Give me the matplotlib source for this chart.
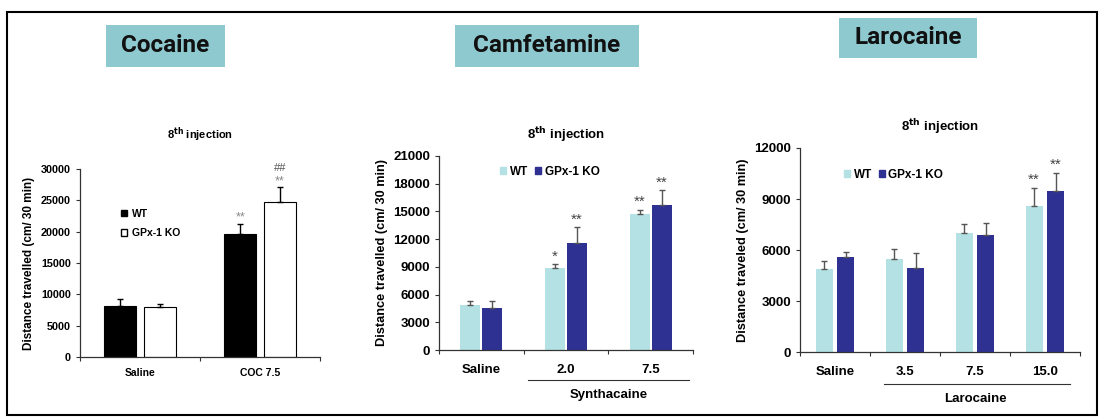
import matplotlib.pyplot as plt
import matplotlib.patches as mpatches
import numpy as np

# ---- data ----
coc_groups = ["Saline", "COC 7.5"]
coc_wt = [8200, 19700]
coc_wt_err = [1000, 1600]
coc_ko = [7900, 24700]
coc_ko_err = [500, 2400]

camf_groups = ["Saline", "2.0", "7.5"]
camf_wt = [4900, 8900, 14700]
camf_wt_err = [400, 400, 500]
camf_ko = [4600, 11600, 15700]
camf_ko_err = [700, 1700, 1600]

laro_groups = ["Saline", "3.5", "7.5", "15.0"]
laro_wt = [4900, 5500, 7000, 8600]
laro_wt_err = [450, 550, 500, 1050]
laro_ko = [5600, 4950, 6900, 9450]
laro_ko_err = [300, 900, 700, 1100]

W, H = 1104, 419
LIGHT = "#b4e2e4"
DARK = "#2e3192"
BOXC = "#8fc9d0"
plt.rcParams["font.family"] = ["Liberation Sans", "DejaVu Sans"]
TITLE = "8$^{\\mathbf{th}}$ injection"


def ax_px(fig, x0, x1, y0, y1):
    # y0 top, y1 bottom in pixels
    return fig.add_axes([x0 / W, (H - y1) / H, (x1 - x0) / W, (y1 - y0) / H])


def style(ax, ymax, step, fs):
    for s in ["top", "right"]:
        ax.spines[s].set_visible(False)
    for s in ["left", "bottom"]:
        ax.spines[s].set_color("#333333")
        ax.spines[s].set_linewidth(0.9)
    ax.set_ylim(0, ymax)
    ax.set_yticks(np.arange(0, ymax + 1, step))
    ax.tick_params(axis="y", direction="out", length=3, labelsize=fs, colors="#333333")
    for t in ax.get_yticklabels():
        t.set_fontweight("bold")
        t.set_color("black")


def bars(ax, wt, wt_err, ko, ko_err, width, off, c_wt, c_ko, ec, ecol):
    x = np.arange(len(wt))
    ax.bar(x - off, wt, width, color=c_wt, edgecolor=ec, linewidth=0.8 if ec else 0,
           yerr=[np.zeros(len(wt)), wt_err], error_kw=dict(ecolor=ecol, capsize=2, elinewidth=1, capthick=1))
    ax.bar(x + off, ko, width, color=c_ko, edgecolor=ec, linewidth=0.8 if ec else 0,
           yerr=[np.zeros(len(ko)), ko_err], error_kw=dict(ecolor=ecol, capsize=2, elinewidth=1, capthick=1))
    ax.set_xlim(-0.5, len(wt) - 0.5)
    ax.set_xticks(np.arange(len(wt) + 1) - 0.5)
    ax.set_xticklabels([])
    ax.tick_params(axis="x", direction="out", length=3, colors="#333333")
    return x


fig = plt.figure(figsize=(W / 100, H / 100), dpi=100)

# outer frame
fig.add_artist(mpatches.Rectangle((7 / W, (H - 415) / H), 1090 / W, 403 / H,
                                  transform=fig.transFigure, fill=False, edgecolor="black", linewidth=1.5))

# title boxes
for name, (x0, x1, y0, y1) in zip(["Cocaine", "Camfetamine", "Larocaine"],
                                  [(106, 225, 25, 67), (455, 639, 25, 67), (839, 977, 18, 58)]):
    fig.add_artist(mpatches.Rectangle((x0 / W, (H - y1) / H), (x1 - x0) / W, (y1 - y0) / H,
                                      transform=fig.transFigure, facecolor=BOXC, edgecolor="none"))
    fig.text((x0 + x1) / 2 / W, (H - (y0 + y1) / 2) / H, name, ha="center", va="center",
             fontsize=17.5, fontweight="bold", family=["Roboto", "DejaVu Sans"], color="#111111")

# ---- panel 1: cocaine ----
ax1 = ax_px(fig, 80, 320, 169, 357)
x = bars(ax1, coc_wt, coc_wt_err, coc_ko, coc_ko_err, 0.27, 0.165, "black", "white", "black", "black")
style(ax1, 30000, 5000, 7.8)
ax1.set_ylabel("Distance travelled (cm/ 30 min)", fontsize=8.5, fontweight="bold")
ax1.set_title(TITLE, fontsize=8, fontweight="bold", pad=22)
for i, g in enumerate(coc_groups):
    ax1.text(i, -0.06, g, transform=ax1.get_xaxis_transform(), ha="center", va="top",
             fontsize=7.5, fontweight="bold")
ax1.text(x[1] - 0.165, coc_wt[1] + coc_wt_err[1] + 500, "**", ha="center", fontsize=9, color="#888888")
ax1.text(x[1] + 0.165, coc_ko[1] + coc_ko_err[1] + 500, "**", ha="center", fontsize=9, color="#888888")
ax1.text(x[1] + 0.165, coc_ko[1] + coc_ko_err[1] + 2600, "##", ha="center", fontsize=8, color="#555555")
h1 = [mpatches.Patch(facecolor="black", edgecolor="black"),
      mpatches.Patch(facecolor="white", edgecolor="black")]
ax1.legend(h1, ["WT", "GPx-1 KO"], loc="center left", bbox_to_anchor=(0.13, 0.71), frameon=False,
           handlelength=0.6, handleheight=0.6, handletextpad=0.5, labelspacing=0.9,
           prop=dict(size=7.5, weight="bold"))

# ---- panel 2: camfetamine ----
ax2 = ax_px(fig, 439, 693, 156, 350)
x = bars(ax2, camf_wt, camf_wt_err, camf_ko, camf_ko_err, 0.236, 0.13, LIGHT, DARK, None, "#555555")
style(ax2, 21000, 3000, 9.5)
ax2.set_ylabel("Distance travelled (cm/ 30 min)", fontsize=9.2, fontweight="bold")
ax2.set_title(TITLE, fontsize=9.5, fontweight="bold", pad=12)
for i, g in enumerate(camf_groups):
    ax2.text(i, -0.07, g, transform=ax2.get_xaxis_transform(), ha="center", va="top",
             fontsize=9.5, fontweight="bold")
ax2.plot([0.55, 2.45], [-0.155, -0.155], transform=ax2.get_xaxis_transform(), color="#333333",
         linewidth=0.8, clip_on=False)
ax2.text(1.5, -0.2, "Synthacaine", transform=ax2.get_xaxis_transform(), ha="center", va="top",
         fontsize=9.5, fontweight="bold")
marks2 = [("", ""), ("*", "**"), ("**", "**")]
for i, (mw, mk) in enumerate(marks2):
    ax2.text(x[i] - 0.13, camf_wt[i] + camf_wt_err[i] + 400, mw, ha="center", fontsize=11, color="#444444")
    ax2.text(x[i] + 0.13, camf_ko[i] + camf_ko_err[i] + 400, mk, ha="center", fontsize=11, color="#444444")
h2 = [mpatches.Patch(color=LIGHT), mpatches.Patch(color=DARK)]
ax2.legend(h2, ["WT", "GPx-1 KO"], loc="center left", bbox_to_anchor=(0.2, 0.92), ncol=2, frameon=False,
           handlelength=0.5, handleheight=0.5, handletextpad=0.3, columnspacing=0.6,
           prop=dict(size=8.5, weight="bold"))

# ---- panel 3: larocaine ----
ax3 = ax_px(fig, 800, 1080, 148, 352)
x = bars(ax3, laro_wt, laro_wt_err, laro_ko, laro_ko_err, 0.24, 0.155, LIGHT, DARK, None, "#555555")
style(ax3, 12000, 3000, 9.5)
ax3.set_ylabel("Distance traveled (cm/ 30 min)", fontsize=9.2, fontweight="bold")
ax3.set_title(TITLE, fontsize=9.5, fontweight="bold", pad=12)
for i, g in enumerate(laro_groups):
    ax3.text(i, -0.07, g, transform=ax3.get_xaxis_transform(), ha="center", va="top",
             fontsize=9.5, fontweight="bold")
ax3.plot([0.7, 3.35], [-0.155, -0.155], transform=ax3.get_xaxis_transform(), color="#333333",
         linewidth=0.8, clip_on=False)
ax3.text(2.0, -0.2, "Larocaine", transform=ax3.get_xaxis_transform(), ha="center", va="top",
         fontsize=9.5, fontweight="bold")
ax3.text(x[3] - 0.155, laro_wt[3] + laro_wt_err[3] + 250, "**", ha="center", fontsize=11, color="#444444")
ax3.text(x[3] + 0.155, laro_ko[3] + laro_ko_err[3] + 250, "**", ha="center", fontsize=11, color="#444444")
ax3.legend(h2, ["WT", "GPx-1 KO"], loc="center left", bbox_to_anchor=(0.12, 0.87), ncol=2, frameon=False,
           handlelength=0.5, handleheight=0.5, handletextpad=0.3, columnspacing=0.6,
           prop=dict(size=8.5, weight="bold"))

fig.savefig("out.png", dpi=100)
